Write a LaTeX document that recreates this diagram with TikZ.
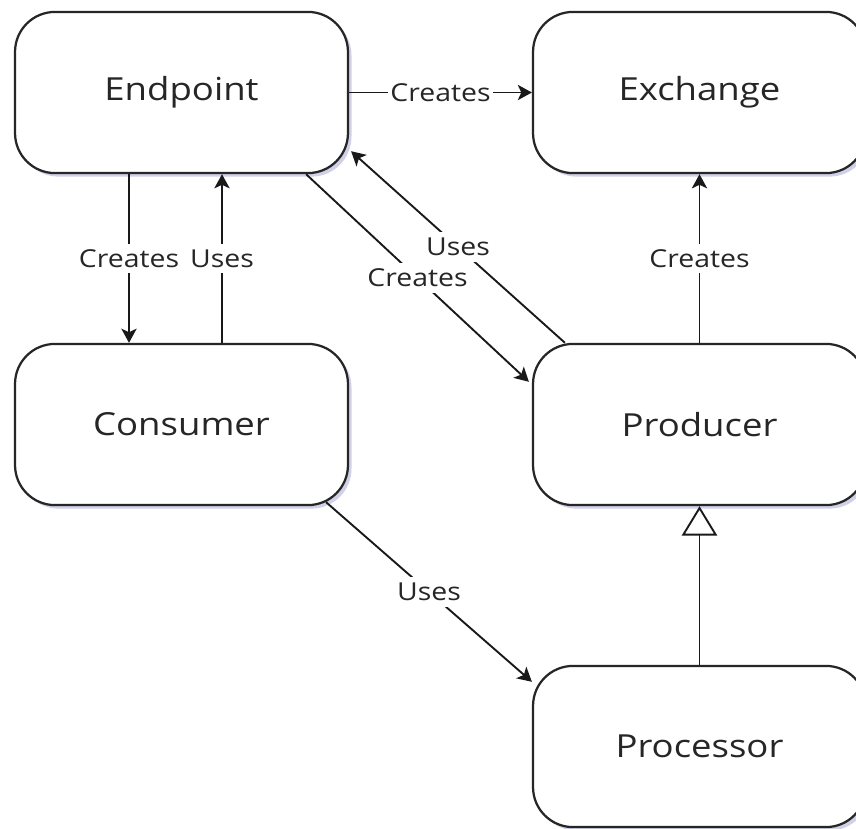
\documentclass[tikz,border=0pt]{standalone}
\usepackage{fontspec}
\setmainfont{Open Sans}[FakeStretch=1.15]
\usetikzlibrary{arrows.meta,calc,shadows}
\begin{document}
\begin{tikzpicture}[x=0.85pt,y=-0.85pt,
  entity/.style={draw=black!85, line width=1.9pt, rounded corners=34pt, fill=white,
    minimum width=283pt, minimum height=137pt, font=\fontsize{27}{32}\selectfont,
    text=black!85,
    drop shadow={shadow xshift=3pt, shadow yshift=-3pt, fill=blue!35!gray!45, opacity=0.6}},
  rel/.style={draw=black!90, line width=1.6pt, -{Stealth[length=12pt,width=13pt,inset=3pt]}},
  isa/.style={draw=black!90, line width=1.6pt, -{Triangle[open,length=25pt,width=30pt,fill=white]}},
  lbl/.style={fill=white, inner xsep=2pt, inner ysep=5pt, text=black!85,
    font=\fontsize{21}{25}\selectfont}]
\useasboundingbox (0,0) rectangle (856,828);
\fill[white] (0,0) rectangle (856,828);
\begin{scope}
\clip (0,0) rectangle (856,828);

% entities
\node[entity] (ep)   at (181.5, 92.5) {Endpoint};
\node[entity] (ex)   at (699.5, 92.5) {Exchange};
\node[entity] (co)   at (181.5,424.5) {Consumer};
\node[entity] (pr)   at (699.5,424.5) {Producer};
\node[entity] (proc) at (699.5,746.5) {Processor};

% relations
\draw[rel] (ep.east) -- node[lbl]{Creates} (ex.west);
\draw[rel] ($(ep.south)+(-52.5,0)$) -- node[lbl]{Creates} ($(co.north)+(-52.5,0)$);
\draw[rel] ($(co.north)+(40.5,0)$) -- node[lbl]{Uses} ($(ep.south)+(40.5,0)$);
\draw[rel] ($(ep.south east)+(-43,0)$) -- node[lbl]{Creates} ($(pr.north west)+(-3,39)$);
\draw[rel] ($(pr.north west)+(33,0)$) -- node[lbl]{Uses} ($(ep.south east)+(2,-23)$);
\draw[rel] (pr.north) -- node[lbl]{Creates} (ex.south);
\draw[rel] ($(co.south east)+(-23,-4)$) -- node[lbl]{Uses} ($(proc.north west)+(0,17)$);
\draw[isa] (proc.north) -- (pr.south);
\end{scope}
\end{tikzpicture}
\end{document}
